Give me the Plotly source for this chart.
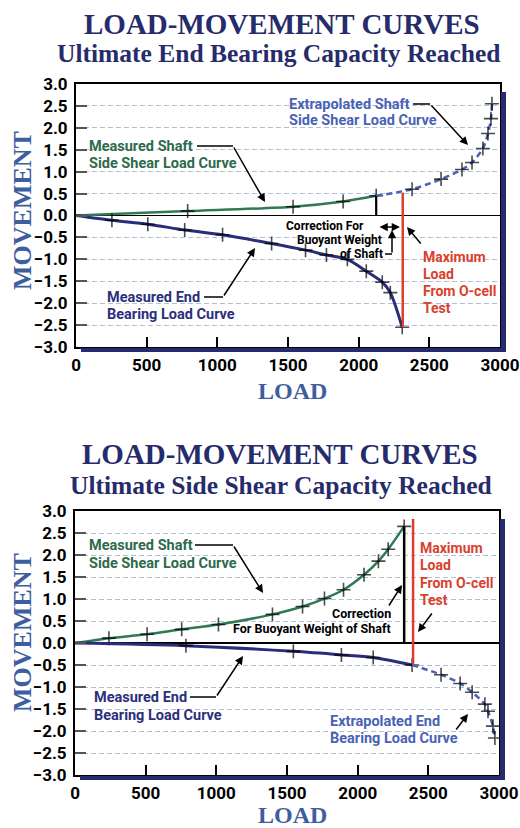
import plotly.graph_objects as go

W, H = 520, 828
OX, OY = 0, 0

# ---------------- data ----------------
x_ticks = [0, 500, 1000, 1500, 2000, 2500, 3000]
y_ticks = [-3.0, -2.5, -2.0, -1.5, -1.0, -0.5, 0.0, 0.5, 1.0, 1.5, 2.0, 2.5, 3.0]

# Chart 1: Ultimate End Bearing Capacity Reached
c1_shaft_load = [0, 790, 1536, 1890, 2124]
c1_shaft_mov = [0.0, 0.10, 0.20, 0.32, 0.45]
c1_end_load = [0, 254, 508, 769, 1037, 1384, 1624, 1772, 1920, 2054, 2167, 2224, 2308]
c1_end_mov = [0.0, -0.11, -0.20, -0.33, -0.44, -0.64, -0.79, -0.90, -1.00, -1.27, -1.52, -1.76, -2.55]
c1_extrap_load = [2124, 2378, 2583, 2731, 2802, 2879, 2915, 2936, 2943]
c1_extrap_mov = [0.45, 0.60, 0.83, 1.05, 1.21, 1.53, 1.87, 2.21, 2.55]
c1_correction_load = [2124, 2124]
c1_correction_mov = [0.0, 0.45]
c1_maxload_load = [2312, 2312]
c1_maxload_mov = [-2.55, 0.52]

# Chart 2: Ultimate Side Shear Capacity Reached
c2_shaft_load = [0, 240, 510, 755, 1015, 1397, 1610, 1765, 1900, 2045, 2147, 2216, 2329]
c2_shaft_mov = [0.0, 0.11, 0.20, 0.31, 0.42, 0.65, 0.83, 1.01, 1.21, 1.55, 1.86, 2.13, 2.65]
c2_end_load = [0, 785, 1545, 1885, 2110, 2385]
c2_end_mov = [0.0, -0.06, -0.19, -0.27, -0.33, -0.50]
c2_extrap_load = [2385, 2590, 2725, 2810, 2900, 2922, 2957, 2971]
c2_extrap_mov = [-0.50, -0.72, -0.92, -1.12, -1.39, -1.55, -1.89, -2.16]
c2_correction_load = [2329, 2329]
c2_correction_mov = [0.0, 2.65]
c2_maxload_load = [2392, 2392]
c2_maxload_mov = [-0.48, 2.82]

# ---------------- styles ----------------
GREEN = "#2f7a52"
GREEN_TXT = "#2e6b4b"
NAVY = "#2b2d78"
NAVY_TXT = "#2c2f7c"
BLUE = "#4a62b6"
RED = "#d9412c"
TITLE = "#262b6b"
AXTITLE = "#3f5ea0"
GRID = "#b3bfd6"
COND = "Roboto, Liberation Sans, sans-serif"
SERIF = "Liberation Serif, Times New Roman, serif"


def P(x, y):
    """window pixel -> paper fraction"""
    return (x - OX) / W, 1 - (y - OY) / H


fig = go.Figure()


def curve(xs, ys, color, xa, ya, dash="solid", width=2.5, first_marker=False):
    sizes = [10] * len(xs)
    if not first_marker:
        sizes[0] = 0
    fig.add_trace(go.Scatter(
        x=xs, y=ys, mode="lines+markers", xaxis=xa, yaxis=ya,
        line=dict(color=color, width=width, dash=dash, shape="spline", smoothing=0.8),
        marker=dict(symbol="cross-thin", size=sizes, color="black",
                    line=dict(color="black", width=1.6)),
        showlegend=False, hoverinfo="skip"))


def vline(xs, ys, color, xa, ya, width=2.2):
    fig.add_trace(go.Scatter(x=xs, y=ys, mode="lines", xaxis=xa, yaxis=ya,
                             line=dict(color=color, width=width),
                             showlegend=False, hoverinfo="skip"))


# chart 1
curve(c1_shaft_load, c1_shaft_mov, GREEN, "x", "y")
curve(c1_end_load, c1_end_mov, NAVY, "x", "y", width=3)
curve(c1_extrap_load, c1_extrap_mov, BLUE, "x", "y", dash="6px,4px")
vline(c1_correction_load, c1_correction_mov, "black", "x", "y")
vline(c1_maxload_load, c1_maxload_mov, RED, "x", "y", width=2.5)
# chart 2
curve(c2_shaft_load, c2_shaft_mov, GREEN, "x2", "y2")
curve(c2_end_load, c2_end_mov, NAVY, "x2", "y2", width=3)
curve(c2_extrap_load, c2_extrap_mov, BLUE, "x2", "y2", dash="6px,4px")
vline(c2_correction_load, c2_correction_mov, "black", "x2", "y2", width=2.5)
vline(c2_maxload_load, c2_maxload_mov, RED, "x2", "y2", width=2.5)

# ---------------- axes ----------------
plots = {
    "1": dict(l=76, r=500, t=84, b=347),
    "2": dict(l=75, r=499, t=511, b=775),
}


def xaxis(p, anchor):
    return dict(domain=[P(p["l"], 0)[0], P(p["r"], 0)[0]], range=[0, 3000], anchor=anchor,
                tickvals=x_ticks, ticks="inside", ticklen=10, tickwidth=2,
                tickcolor="black", showline=True, mirror=True, linecolor="black",
                linewidth=2, showgrid=False, zeroline=False, ticklabelstandoff=2,
                automargin=False,
                tickfont=dict(family=COND, size=17, color="black", weight="bold"),
                fixedrange=True)


def yaxis(p, anchor):
    return dict(domain=[P(0, p["b"])[1], P(0, p["t"])[1]], range=[-3, 3], anchor=anchor,
                tickvals=y_ticks, tickformat=".1f", ticks="inside", ticklen=11,
                tickwidth=2, tickcolor="#555555", showline=True, mirror=True,
                linecolor="black", linewidth=2, showgrid=True, gridcolor=GRID,
                gridwidth=1, griddash="5px,3px", zeroline=True, zerolinecolor="black",
                zerolinewidth=1.5, ticklabelstandoff=3, automargin=False,
                tickfont=dict(family=COND, size=17, color="black", weight="bold"),
                fixedrange=True)


fig.update_layout(
    width=W, height=H, margin=dict(l=0, r=0, t=0, b=0, autoexpand=False),
    paper_bgcolor="white", plot_bgcolor="white",
    xaxis=xaxis(plots["1"], "y"), yaxis=yaxis(plots["1"], "x"),
    xaxis2=xaxis(plots["2"], "y2"), yaxis2=yaxis(plots["2"], "x2"),
)

# ---------------- shadows ----------------
shapes = []
for p in plots.values():
    for (x0, y0, x1, y1) in [(p["r"] + 1, p["t"] + 8, p["r"] + 6, p["b"] + 5),
                             (p["l"] + 5, p["b"] + 1, p["r"] + 6, p["b"] + 5)]:
        a0 = P(x0, y1)
        a1 = P(x1, y0)
        shapes.append(dict(type="rect", xref="paper", yref="paper",
                           x0=a0[0], y0=a0[1], x1=a1[0], y1=a1[1],
                           fillcolor="#262a6e", line=dict(width=0)))

annotations = []


def text(x, y, s, color, size, family=COND, xanchor="left", weight="bold", angle=0):
    px, py = P(x, y)
    annotations.append(dict(x=px, y=py, xref="paper", yref="paper", text=s,
                            showarrow=False, xanchor=xanchor, yanchor="middle",
                            textangle=angle,
                            font=dict(family=family, size=size, color=color, weight=weight)))


def hline(x0, x1, y, color="black", width=1.5):
    a = P(x0, y)
    b = P(x1, y)
    shapes.append(dict(type="line", xref="paper", yref="paper", x0=a[0], y0=a[1],
                       x1=b[0], y1=b[1], line=dict(color=color, width=width)))


def arrow(tx, ty, hx, hy, both=False):
    px, py = P(hx, hy)
    annotations.append(dict(x=px, y=py, xref="paper", yref="paper", text="",
                            showarrow=True, axref="pixel", ayref="pixel",
                            ax=tx - hx, ay=ty - hy, arrowhead=2, arrowsize=1.1,
                            arrowwidth=1.5, arrowcolor="black",
                            arrowside="end+start" if both else "end"))


# titles
text(282, 24, "LOAD-MOVEMENT CURVES", TITLE, 29, SERIF, "center")
text(278, 53, "Ultimate End Bearing Capacity Reached", TITLE, 25.5, SERIF, "center")
text(280, 454, "LOAD-MOVEMENT CURVES", TITLE, 29, SERIF, "center")
text(281, 485, "Ultimate Side Shear Capacity Reached", TITLE, 25.5, SERIF, "center")

text(22, 211, "MOVEMENT", AXTITLE, 26, SERIF, "center", angle=-90)
text(22, 633, "MOVEMENT", AXTITLE, 26, SERIF, "center", angle=-90)
text(292, 391, "LOAD", AXTITLE, 24, SERIF, "center")
text(292, 815, "LOAD", AXTITLE, 24, SERIF, "center")

LBL = 14.5
# ---- chart 1 labels ----
text(87, 146, "Measured Shaft", GREEN_TXT, LBL)
text(87, 163, "Side Shear Load Curve", GREEN_TXT, LBL)
hline(197, 233, 146)
arrow(233, 146, 265, 202)

text(105, 297, "Measured End", NAVY_TXT, LBL)
text(105, 314, "Bearing Load Curve", NAVY_TXT, LBL)
hline(204, 223, 297)
arrow(223, 297, 255, 248)

text(287, 104, "Extrapolated Shaft", BLUE, LBL)
text(287, 121, "Side Shear Load Curve", BLUE, LBL)
hline(413, 430, 104)
arrow(430, 104, 468, 145)

text(366, 226, "Correction For", "black", 12, xanchor="right")
text(384, 240, "Buoyant Weight", "black", 12, xanchor="right")
text(385, 254, "of Shaft", "black", 12, xanchor="right")
arrow(378, 227, 400, 227, both=True)
hline(385, 392, 254)
arrow(392, 254, 392, 230)

for i, s in enumerate(["Maximum", "Load", "From O-cell", "Test"]):
    text(421, 257 + 17 * i, s, RED, 14)
arrow(422, 245, 407, 227)

# ---- chart 2 labels ----
text(87, 545, "Measured Shaft", GREEN_TXT, LBL)
text(87, 563, "Side Shear Load Curve", GREEN_TXT, LBL)
hline(195, 233, 545)
arrow(233, 545, 263, 593)

text(92, 697, "Measured End", NAVY_TXT, LBL)
text(92, 715, "Bearing Load Curve", NAVY_TXT, LBL)
hline(190, 216, 697)
arrow(216, 697, 243, 656)

text(393, 613, "Correction", "black", 12.5, xanchor="right")
text(393, 628, "For Buoyant Weight of Shaft", "black", 12.5, xanchor="right")
arrow(388, 607, 402, 585)

for i, s in enumerate(["Maximum", "Load", "From O-cell", "Test"]):
    text(418, 548 + 17.3 * i, s, RED, 14)
arrow(433, 612, 418, 632)

text(328, 721, "Extrapolated End", BLUE, LBL)
text(328, 738, "Bearing Load Curve", BLUE, LBL)
arrow(455, 731, 468, 714)

fig.update_layout(shapes=shapes, annotations=annotations)
fig.write_html(
    "out.html",
    config={"displayModeBar": False, "staticPlot": True},
    post_script="document.documentElement.style.margin='0';"
                "document.body.style.margin='0';"
                "document.body.style.overflow='hidden';",
)
